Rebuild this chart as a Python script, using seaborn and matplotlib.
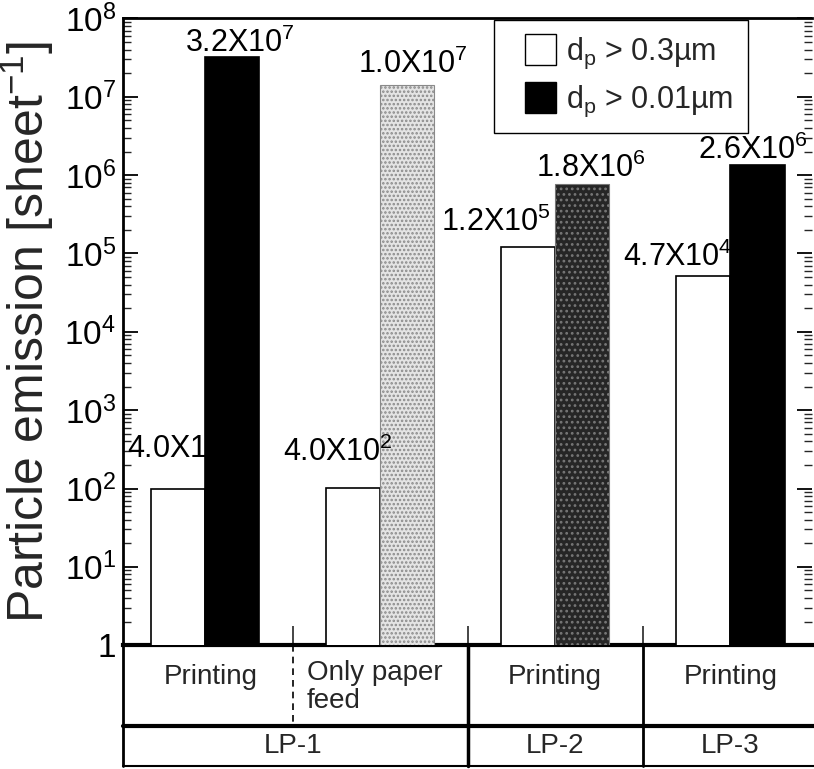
import numpy as np
import pandas as pd
import seaborn as sns
import matplotlib.pyplot as plt
from matplotlib.patches import Patch, Rectangle
from matplotlib.legend_handler import HandlerPatch
import matplotlib.transforms as mtransforms

sns.set_theme(style="white")
plt.rcParams['font.family'] = ['Liberation Sans', 'DejaVu Sans']
plt.rcParams['mathtext.fontset'] = 'custom'
plt.rcParams['mathtext.rm'] = 'Liberation Sans'
plt.rcParams['mathtext.default'] = 'regular'
plt.rcParams['hatch.linewidth'] = 1.2

# data
modes = ['LP-1 Printing', 'LP-1 Only paper feed', 'LP-2 Printing', 'LP-3 Printing']
printers = ['LP-1', 'LP-2', 'LP-3']
row1_labels = ['Printing', 'Only paper\nfeed', 'Printing', 'Printing']
sizes = ['dp > 0.3um', 'dp > 0.01um']
emission_coarse = [1.0e2, 1.03e2, 1.2e5, 5.2e4]      # white bars (drawn height)
emission_fine = [3.2e7, 1.4e7, 7.8e5, 1.35e6]        # dark bars (drawn height)
labels_coarse = ['4.0X10$^{2}$', '4.0X10$^{2}$', '1.2X10$^{5}$', '4.7X10$^{4}$']
labels_fine = ['3.2X10$^{7}$', '1.0X10$^{7}$', '1.8X10$^{6}$', '2.6X10$^{6}$']
ytick_labels = ['1', '10$^{1}$', '10$^{2}$', '10$^{3}$', '10$^{4}$',
                '10$^{5}$', '10$^{6}$', '10$^{7}$', '10$^{8}$']

df = pd.DataFrame({
    'mode': modes * 2,
    'size': [sizes[0]] * 4 + [sizes[1]] * 4,
    'emission': emission_coarse + emission_fine,
})

fig = plt.figure(figsize=(8.14, 7.69), dpi=100)
ax = fig.add_axes([0.151, 0.161, 0.847, 0.815])

sns.barplot(data=df, x='mode', y='emission', hue='size', hue_order=sizes,
            palette=['white', 'black'], width=0.62, edgecolor='black',
            linewidth=1.2, saturation=1, legend=False, log_scale=True,
            err_kws={'linewidth': 0}, ax=ax, zorder=3)

# stippled bars
stipple = ax.containers[1]
stipple[1].set_facecolor('#e4e4e4')
stipple[1].set_hatch('....')
stipple[1].set_edgecolor('#8a8a8a')
stipple[1].set_linewidth(0.8)
stipple[2].set_facecolor('#262626')
stipple[2].set_hatch('...')
stipple[2].set_edgecolor('#777777')
stipple[2].set_linewidth(0.8)

ax.set_yscale('log')
ax.set_ylim(1, 1e8)
ax.set_xlim(-0.469, 3.469)

# value labels; some sit behind the black bars like in the scan
# offsets in pixels: left edge of text from bar centre, baseline above bar top
off_coarse = [(-51, 31), (-70, 27), (-87, 16), (-80, 10)]
off_fine = [(-47, 5), (-49, 12), (-46, 7), (-59, 6)]
layer_coarse = [2, 4, 2, 2]
layer_fine = [2, 2, 2, 2]
for cont, labs, offs, zs in [(ax.containers[0], labels_coarse, off_coarse, layer_coarse),
                             (ax.containers[1], labels_fine, off_fine, layer_fine)]:
    for bar, lab, (dx, dy), z in zip(cont, labs, offs, zs):
        ax.annotate(lab, (bar.get_x() + bar.get_width() / 2, bar.get_height()),
                    xytext=(dx, dy), textcoords='offset pixels',
                    ha='left', va='baseline', fontsize=22, color='black',
                    zorder=z, annotation_clip=False)

# axes styling
ax.set_yticks([10.0 ** k for k in range(9)])
ax.set_yticklabels(ytick_labels, fontsize=24)
ax.set_xticks([0.5, 1.5, 2.5])
ax.set_xticklabels([])
ax.set_xlabel('')
ax.set_ylabel('Particle emission [sheet$^{-1}$]', fontsize=36, labelpad=6)
ax.tick_params(axis='y', which='major', direction='in', length=11, width=1.3,
               left=True, right=True, pad=5, colors='black')
ax.tick_params(axis='y', which='minor', direction='in', length=6, width=1,
               left=True, right=True)
ax.tick_params(axis='x', which='major', direction='in', length=14, width=1.2,
               bottom=True, top=False)
for s in ['left', 'top', 'bottom']:
    ax.spines[s].set_color('black')
ax.spines['left'].set_linewidth(2)
ax.spines['top'].set_linewidth(2)
ax.spines['bottom'].set_linewidth(3)
ax.spines['right'].set_visible(False)


# legend with square swatches pushed right inside their handle box
def square_patch(legend, orig_handle, xdescent, ydescent, width, height, fontsize):
    return Rectangle((width - height - xdescent, -ydescent), height, height)


handles = [Patch(facecolor='white', edgecolor='black', linewidth=1),
           Patch(facecolor='black', edgecolor='black', linewidth=1)]
leg = ax.legend(handles, ['d$_{p}$ > 0.3\u00b5m ', 'd$_{p}$ > 0.01\u00b5m '],
                loc='upper left', bbox_to_anchor=(0.538, 0.997),
                fontsize=22, handlelength=1.6, handleheight=1.2,
                handletextpad=0.3, borderpad=0.45, labelspacing=0.35,
                handler_map={Patch: HandlerPatch(patch_func=square_patch)},
                frameon=True, fancybox=False, framealpha=1, borderaxespad=0)
leg.get_frame().set_edgecolor('black')
leg.get_frame().set_linewidth(1)

# category table under the axis
tr = mtransforms.blended_transform_factory(ax.transData, ax.transAxes)
x0, x1 = ax.get_xlim()
r1, r2 = -0.129, -0.193
kw = dict(transform=tr, clip_on=False, color='black')
ax.plot([x0, x0], [0, r2], lw=2, **kw)
ax.plot([x0, x1 + 0.1], [r1, r1], lw=3, **kw)
ax.plot([x0, x1 + 0.1], [r2, r2], lw=1.5, **kw)
ax.plot([1.5, 1.5], [0, r2], lw=2.5, **kw)
ax.plot([2.5, 2.5], [0, r2], lw=2, **kw)
ax.plot([0.5, 0.5], [0, r1], lw=1.2, ls=(0, (4, 3)), **kw)

for i, lab in enumerate(row1_labels):
    if i == 1:
        ax.text(i - 0.42, -0.024, lab, transform=tr, ha='left', va='top',
                fontsize=20, linespacing=1.1)
    else:
        ax.text(i + 0.03 * (i == 0), -0.05, lab, transform=tr, ha='center',
                va='center', fontsize=20)
for xc, lab in zip([0.5, 2.0, 3.0], printers):
    ax.text(xc, -0.161, lab, transform=tr, ha='center', va='center', fontsize=20)

fig.savefig('out.png', dpi=100)
